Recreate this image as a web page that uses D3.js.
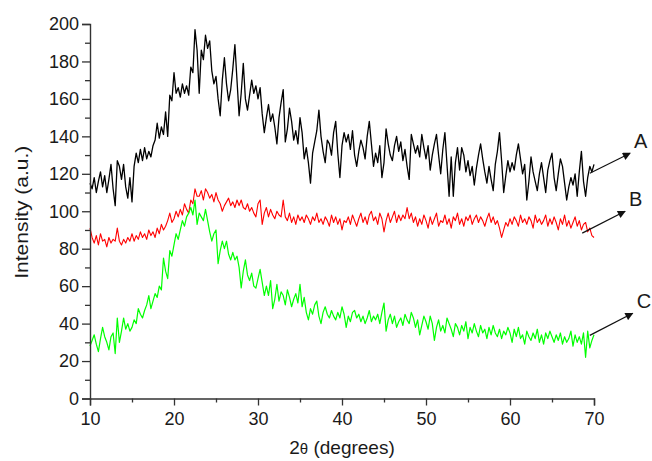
<!DOCTYPE html>
<html>
<head>
<meta charset="utf-8">
<script src="https://cdn.jsdelivr.net/npm/d3@7"></script>
<style>
  html, body { margin: 0; padding: 0; background: #fff; }
  svg { display: block; }
  text { font-family: "Liberation Sans", Arial, Helvetica, sans-serif; fill: #1a1a1a; }
</style>
</head>
<body>
<svg id="chart" width="652" height="461"></svg>
<script>
// Diffraction scans, sampled every 0.25° from 10° to 70° (2θ)
const angleStart = 10;
const angleStep = 0.25;

// Sample A (black)
const seriesA = [
  115,112,118,110, 116,121,113,119, 110,117,125,112, 103,127,124,117,
  125,113,107,118, 105,124,131,126, 133,127,134,128, 132,129,135,138,
  147,139,145,141, 153,140,162,159, 174,163,166,161, 168,163,167,162,
  177,174,197,186, 163,186,181,194, 187,191,175,168, 172,160,151,170,
  182,168,159,165, 176,189,170,151, 163,179,160,154, 162,170,163,167,
  160,166,152,142, 150,157,148,152, 145,136,150,158, 165,137,144,155,
  148,138,143,136, 150,142,128,134, 126,115,131,137, 143,154,140,132,
  126,138,136,130, 142,148,131,118, 135,142,137,141, 133,143,130,124,
  132,138,134,128, 140,148,136,124, 131,126,135,118, 126,144,136,130,
  127,135,140,132, 137,127,133,124, 117,141,136,131, 135,129,141,134,
  128,135,122,130, 136,141,130,120, 133,142,125,108, 129,108,126,134,
  122,134,130,121, 127,119,124,114, 123,130,136,128, 121,115,124,117,
  111,125,132,142, 127,110,119,127, 121,126,122,130, 136,128,120,125,
  106,116,129,121, 116,111,120,126, 118,110,122,127, 131,118,111,120,
  128,124,115,106, 113,118,114,120, 108,121,132,116, 108,118,124,121,
  125
];

// Sample B (red)
const seriesB = [
  91,86,83,87, 82,88,84,85, 81,86,83,85, 84,91,84,82,
  85,83,86,84, 88,84,87,85, 89,86,88,85, 90,87,89,86,
  91,88,93,90, 92,95,99,94, 96,100,97,101, 98,104,101,99,
  106,104,112,108, 108,111,106,112, 110,107,109,105, 110,106,104,100,
  103,105,107,103, 105,102,106,103, 106,102,101,104, 100,102,99,97,
  104,106,93,99, 102,97,101,98, 96,100,98,97, 106,97,95,99,
  94,97,93,98, 95,97,94,98, 96,93,97,95, 99,94,96,93,
  97,95,92,98, 94,97,93,96, 90,95,94,97, 93,98,95,92,
  96,99,94,97, 93,98,100,95, 97,93,99,96, 89,95,99,94,
  97,100,94,98, 95,98,96,102, 96,99,94,97, 92,96,93,98,
  95,91,97,93, 96,99,92,95, 94,98,93,96, 91,97,95,99,
  93,96,92,97, 95,98,93,96, 98,94,97,95, 92,96,99,94,
  97,93,95,91, 86,90,94,92, 96,93,97,95, 92,98,94,96,
  93,97,95,91, 98,94,96,93, 95,98,92,96, 93,97,94,90,
  96,93,98,92, 95,91,94,97, 92,95,90,93, 94,89,91,87,
  86
];

// Sample C (green)
const seriesC = [
  28,31,34,29, 25,32,38,33, 30,26,33,35, 24,43,30,36,
  43,37,40,36, 38,42,40,48, 45,43,47,50, 55,48,52,56,
  54,60,58,75, 68,64,79,76, 82,88,85,90, 95,92,97,99,
  102,98,106,93, 99,97,95,101, 95,89,84,88, 90,72,79,84,
  80,84,77,74, 78,74,76,70, 59,68,74,66, 63,67,60,59,
  64,69,62,55, 60,55,63,48, 53,61,52,57, 55,50,58,54,
  49,53,56,51, 61,49,54,46, 42,48,45,50, 52,44,40,46,
  49,45,43,47, 44,42,46,43, 49,45,38,44, 41,46,47,43,
  45,41,44,40, 43,47,41,44, 42,45,40,46, 51,36,42,45,
  40,44,38,41, 43,39,45,42, 40,46,43,38, 42,34,39,44,
  41,37,44,40, 31,38,42,36, 39,35,43,40, 37,33,40,38,
  34,39,36,41, 32,38,35,40, 36,33,39,35, 37,32,38,34,
  39,35,33,37, 32,36,34,38, 35,30,37,33, 38,32,34,29,
  36,33,31,35, 32,37,30,34, 29,35,32,36, 33,30,34,31,
  35,29,33,30, 32,36,28,34, 30,33,29,35, 22,36,27,31,
  34
];

const xMajorTicks = [10, 20, 30, 40, 50, 60, 70];
const xMinorTicks = [15, 25, 35, 45, 55, 65];
const yMajorTicks = [0, 20, 40, 60, 80, 100, 120, 140, 160, 180, 200];
const yMinorTicks = [10, 30, 50, 70, 90, 110, 130, 150, 170, 190];

// Sample tags with leader arrows (angle, intensity)
const tagLabels = ["A", "B", "C"];
const tagFrom = [[69.5, 120.3], [68.6, 88.3], [69.5, 33.7]];
const tagTo = [[74.3, 131], [73.7, 100], [74.6, 45.5]];

const svg = d3.select("#chart");
const plotLeft = 90, plotRight = 594, plotTop = 24, plotBottom = 398.5;

const x = d3.scaleLinear().domain([10, 70]).range([plotLeft, plotRight]);
const y = d3.scaleLinear().domain([0, 200]).range([plotBottom, plotTop]);

svg.append("rect").attr("width", 652).attr("height", 461).attr("fill", "#fff");

const toPoints = arr => arr.map((v, i) => [angleStart + i * angleStep, v]);
const line = d3.line().x(d => x(d[0])).y(d => y(d[1]));

const traces = [
  { data: seriesA, color: "#000000", width: 1.3 },
  { data: seriesB, color: "#ff0000", width: 1.1 },
  { data: seriesC, color: "#00ff00", width: 1.2 }
];

svg.append("g").selectAll("path")
  .data(traces)
  .join("path")
  .attr("fill", "none")
  .attr("stroke", d => d.color)
  .attr("stroke-width", d => d.width)
  .attr("stroke-linejoin", "round")
  .attr("d", d => line(toPoints(d.data)));

// Axes
const axisColor = "#333";
const gx = svg.append("g").attr("transform", `translate(0,${plotBottom})`);
gx.call(d3.axisBottom(x).tickValues(xMajorTicks).tickSize(7).tickPadding(7).tickFormat(d3.format("d")));
gx.append("g").call(d3.axisBottom(x).tickValues(xMinorTicks).tickSize(4).tickFormat(""))
  .select(".domain").remove();

const gy = svg.append("g").attr("transform", `translate(${plotLeft},0)`);
gy.call(d3.axisLeft(y).tickValues(yMajorTicks).tickSize(8).tickPadding(3).tickFormat(d3.format("d")));
gy.append("g").call(d3.axisLeft(y).tickValues(yMinorTicks).tickSize(5).tickFormat(""))
  .select(".domain").remove();

svg.selectAll(".domain").attr("stroke", axisColor).attr("stroke-width", 1.4);
svg.selectAll(".tick line").attr("stroke", axisColor).attr("stroke-width", 1.3);
svg.selectAll(".tick text").attr("font-size", 18).attr("fill", "#1a1a1a")
  .attr("font-family", '"Liberation Sans", Arial, sans-serif');

// Axis titles
svg.append("text")
  .attr("transform", `translate(28,${(plotTop + plotBottom) / 2 + 1}) rotate(-90)`)
  .attr("text-anchor", "middle")
  .attr("font-size", 19)
  .attr("textLength", 133)
  .attr("lengthAdjust", "spacingAndGlyphs")
  .text("Intensity (a.u.)");

const xt = svg.append("text")
  .attr("x", (plotLeft + plotRight) / 2)
  .attr("y", 454)
  .attr("text-anchor", "middle")
  .attr("font-size", 19);
xt.append("tspan").text("2");
xt.append("tspan").attr("font-size", 15).text("θ");
xt.append("tspan").text(" (degrees)");

// Sample tags
const arrowDefs = svg.append("defs");
arrowDefs.append("marker")
  .attr("id", "head")
  .attr("viewBox", "0 0 10 10")
  .attr("refX", 9).attr("refY", 5)
  .attr("markerWidth", 11).attr("markerHeight", 8)
  .attr("markerUnits", "userSpaceOnUse")
  .attr("orient", "auto")
  .append("path").attr("d", "M0,0 L10,5 L0,10 Z").attr("fill", "#111");

const tags = svg.append("g");
tagLabels.forEach((lab, i) => {
  tags.append("line")
    .attr("x1", x(tagFrom[i][0])).attr("y1", y(tagFrom[i][1]))
    .attr("x2", x(tagTo[i][0])).attr("y2", y(tagTo[i][1]))
    .attr("stroke", "#111").attr("stroke-width", 1.2)
    .attr("marker-end", "url(#head)");
  tags.append("text")
    .attr("x", x(tagTo[i][0]) + 4)
    .attr("y", y(tagTo[i][1]) - 5)
    .attr("font-size", 20)
    .text(lab);
});
</script>
</body>
</html>
